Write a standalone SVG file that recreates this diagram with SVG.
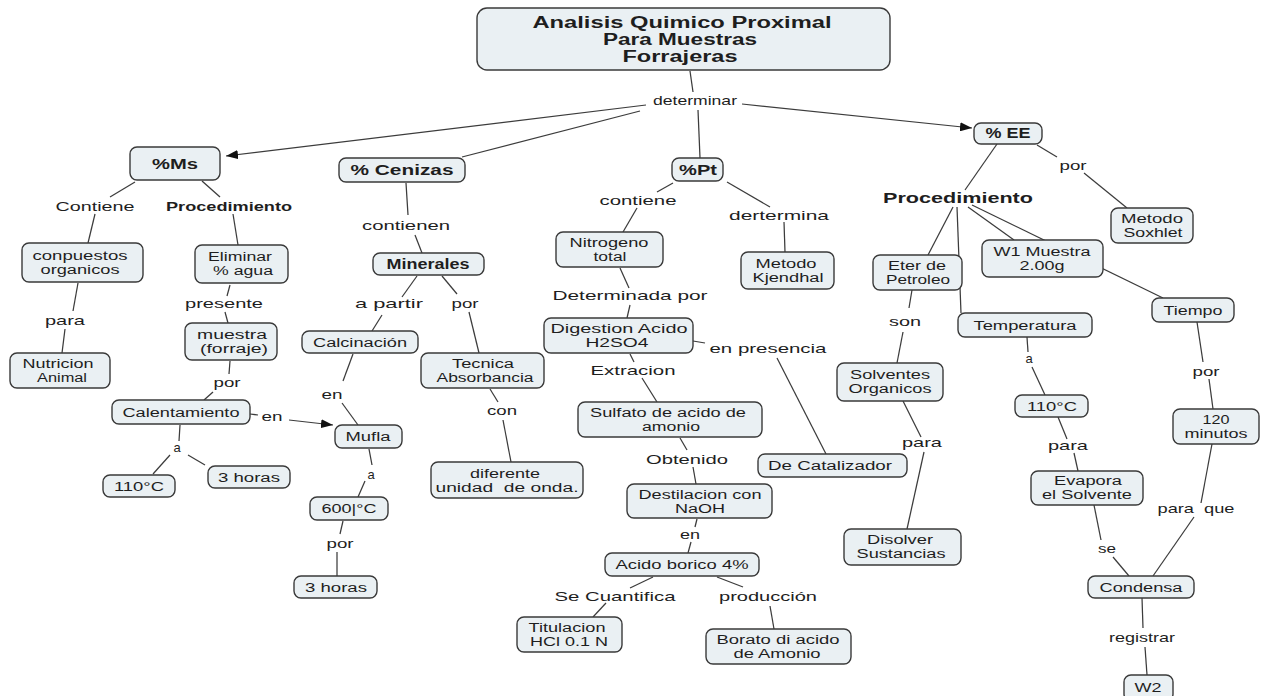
<svg xmlns="http://www.w3.org/2000/svg" width="1262" height="696" viewBox="0 0 1262 696">
<style>
.n rect{fill:#eaf0f3;stroke:#3a3a3a;stroke-width:1.4}
text{font-family:"Liberation Sans",Arial,sans-serif;font-size:13px;fill:#1e1e1e;text-anchor:middle}
.n text{font-size:12.5px}
.n text.b{font-size:14px}
.b{font-weight:bold}
.n text.t{font-size:16px;font-weight:bold}
#connectors line{stroke:#3c3c3c;stroke-width:1.25}
#connectors line.ar{marker-end:url(#arr)}
</style>
<defs>
<marker id="arr" markerUnits="userSpaceOnUse" markerWidth="12" markerHeight="9" refX="12" refY="4.5" orient="auto">
<path d="M0,0 L12,4.5 L0,9 z" fill="#111"/>
</marker>
</defs>
<rect width="1262" height="696" fill="#fff"/>
<g id="connectors">
<line x1="690" y1="71" x2="693" y2="92"/>
<line class="ar" x1="646" y1="105" x2="226" y2="156"/>
<line x1="640" y1="111" x2="462" y2="157"/>
<line x1="698" y1="110" x2="700" y2="158"/>
<line class="ar" x1="742" y1="104" x2="972" y2="128"/>
<line x1="135" y1="182" x2="110" y2="197"/>
<line x1="202" y1="181" x2="220" y2="197"/>
<line x1="95" y1="214" x2="88" y2="243"/>
<line x1="233" y1="214" x2="238" y2="245"/>
<line x1="78" y1="283" x2="73" y2="311"/>
<line x1="65" y1="329" x2="62" y2="353"/>
<line x1="230" y1="285" x2="227" y2="296"/>
<line x1="225" y1="312" x2="228" y2="323"/>
<line x1="230" y1="361" x2="229" y2="374"/>
<line x1="213" y1="392" x2="204" y2="400"/>
<line x1="250" y1="414" x2="258" y2="415"/>
<line class="ar" x1="289" y1="420" x2="333" y2="425"/>
<line x1="180" y1="425" x2="179" y2="441"/>
<line x1="170" y1="455" x2="153" y2="474"/>
<line x1="188" y1="455" x2="205" y2="465"/>
<line x1="369" y1="449" x2="372" y2="465"/>
<line x1="365" y1="481" x2="358" y2="497"/>
<line x1="343" y1="521" x2="340" y2="534"/>
<line x1="337" y1="552" x2="337" y2="576"/>
<line x1="406" y1="183" x2="408" y2="215"/>
<line x1="415" y1="235" x2="422" y2="253"/>
<line x1="417" y1="276" x2="402" y2="297"/>
<line x1="382" y1="315" x2="372" y2="331"/>
<line x1="353" y1="354" x2="343" y2="381"/>
<line x1="342" y1="403" x2="358" y2="425"/>
<line x1="442" y1="276" x2="457" y2="294"/>
<line x1="469" y1="312" x2="479" y2="353"/>
<line x1="490" y1="389" x2="498" y2="402"/>
<line x1="503" y1="420" x2="511" y2="462"/>
<line x1="673" y1="183" x2="657" y2="192"/>
<line x1="637" y1="208" x2="623" y2="232"/>
<line x1="727" y1="182" x2="770" y2="207"/>
<line x1="784" y1="222" x2="785" y2="252"/>
<line x1="620" y1="268" x2="629" y2="288"/>
<line x1="630" y1="305" x2="627" y2="318"/>
<line x1="693" y1="341" x2="705" y2="343"/>
<line x1="777" y1="358" x2="826" y2="454"/>
<line x1="630" y1="354" x2="634" y2="362"/>
<line x1="642" y1="378" x2="657" y2="402"/>
<line x1="680" y1="438" x2="687" y2="450"/>
<line x1="693" y1="467" x2="696" y2="484"/>
<line x1="697" y1="519" x2="695" y2="527"/>
<line x1="691" y1="542" x2="688" y2="553"/>
<line x1="653" y1="577" x2="630" y2="588"/>
<line x1="606" y1="603" x2="593" y2="617"/>
<line x1="717" y1="577" x2="743" y2="587"/>
<line x1="770" y1="606" x2="774" y2="629"/>
<line x1="997" y1="144" x2="965" y2="190"/>
<line x1="1037" y1="145" x2="1057" y2="157"/>
<line x1="1084" y1="173" x2="1127" y2="208"/>
<line x1="953" y1="207" x2="928" y2="255"/>
<line x1="957" y1="207" x2="961" y2="313"/>
<line x1="968" y1="207" x2="1014" y2="240"/>
<line x1="972" y1="205" x2="1163" y2="298"/>
<line x1="912" y1="290" x2="909" y2="308"/>
<line x1="903" y1="332" x2="897" y2="363"/>
<line x1="903" y1="401" x2="921" y2="437"/>
<line x1="924" y1="452" x2="907" y2="529"/>
<line x1="1027" y1="337" x2="1028" y2="352"/>
<line x1="1032" y1="367" x2="1045" y2="395"/>
<line x1="1058" y1="417" x2="1067" y2="439"/>
<line x1="1074" y1="453" x2="1078" y2="471"/>
<line x1="1094" y1="505" x2="1101" y2="540"/>
<line x1="1113" y1="557" x2="1129" y2="576"/>
<line x1="1197" y1="322" x2="1203" y2="362"/>
<line x1="1209" y1="379" x2="1213" y2="409"/>
<line x1="1212" y1="444" x2="1201" y2="503"/>
<line x1="1194" y1="517" x2="1153" y2="576"/>
<line x1="1142" y1="598" x2="1143" y2="628"/>
<line x1="1145" y1="647" x2="1147" y2="675"/>
</g>
<g id="labels">
<g id="l-determinar"><text x="695" y="105" textLength="84" lengthAdjust="spacingAndGlyphs">determinar</text></g>
<g id="l-contiene1"><text x="95" y="211" textLength="79" lengthAdjust="spacingAndGlyphs">Contiene</text></g>
<g id="l-proc1"><text class="b" x="229" y="211" textLength="126" lengthAdjust="spacingAndGlyphs">Procedimiento</text></g>
<g id="l-para1"><text x="65" y="325" textLength="40" lengthAdjust="spacingAndGlyphs">para</text></g>
<g id="l-presente"><text x="224" y="308" textLength="78" lengthAdjust="spacingAndGlyphs">presente</text></g>
<g id="l-por1"><text x="227" y="387" textLength="27" lengthAdjust="spacingAndGlyphs">por</text></g>
<g id="l-en1"><text x="272" y="421" textLength="21" lengthAdjust="spacingAndGlyphs">en</text></g>
<g id="l-a1"><text x="177" y="452">a</text></g>
<g id="l-a2"><text x="371" y="479">a</text></g>
<g id="l-por2"><text x="340" y="548" textLength="27" lengthAdjust="spacingAndGlyphs">por</text></g>
<g id="l-en2"><text x="332" y="399" textLength="21" lengthAdjust="spacingAndGlyphs">en</text></g>
<g id="l-contienen"><text x="406" y="230" textLength="88" lengthAdjust="spacingAndGlyphs">contienen</text></g>
<g id="l-apartir"><text x="389" y="308" textLength="68" lengthAdjust="spacingAndGlyphs">a partir</text></g>
<g id="l-por3"><text x="465" y="308" textLength="27" lengthAdjust="spacingAndGlyphs">por</text></g>
<g id="l-con"><text x="502" y="415" textLength="30" lengthAdjust="spacingAndGlyphs">con</text></g>
<g id="l-contiene2"><text x="638" y="205" textLength="77" lengthAdjust="spacingAndGlyphs">contiene</text></g>
<g id="l-dertermina"><text x="779" y="220" textLength="100" lengthAdjust="spacingAndGlyphs">dertermina</text></g>
<g id="l-determinada"><text x="630" y="300" textLength="155" lengthAdjust="spacingAndGlyphs">Determinada por</text></g>
<g id="l-presencia"><text x="768" y="353" textLength="117" lengthAdjust="spacingAndGlyphs">en presencia</text></g>
<g id="l-extracion"><text x="633" y="375" textLength="85" lengthAdjust="spacingAndGlyphs">Extracion</text></g>
<g id="l-obtenido"><text x="687" y="464" textLength="82" lengthAdjust="spacingAndGlyphs">Obtenido</text></g>
<g id="l-en3"><text x="690" y="539" textLength="20" lengthAdjust="spacingAndGlyphs">en</text></g>
<g id="l-cuantifica"><text x="615" y="601" textLength="121" lengthAdjust="spacingAndGlyphs">Se Cuantifica</text></g>
<g id="l-produccion"><text x="768" y="601" textLength="98" lengthAdjust="spacingAndGlyphs">producción</text></g>
<g id="l-proc2"><text class="b" x="958" y="203" style="font-size:14px" textLength="150" lengthAdjust="spacingAndGlyphs">Procedimiento</text></g>
<g id="l-por4"><text x="1073" y="170" textLength="27" lengthAdjust="spacingAndGlyphs">por</text></g>
<g id="l-son"><text x="905" y="326" textLength="32" lengthAdjust="spacingAndGlyphs">son</text></g>
<g id="l-para2"><text x="922" y="447" textLength="40" lengthAdjust="spacingAndGlyphs">para</text></g>
<g id="l-a3"><text x="1029" y="363">a</text></g>
<g id="l-para3"><text x="1068" y="450" textLength="40" lengthAdjust="spacingAndGlyphs">para</text></g>
<g id="l-se"><text x="1107" y="553" textLength="18" lengthAdjust="spacingAndGlyphs">se</text></g>
<g id="l-por5"><text x="1206" y="376" textLength="27" lengthAdjust="spacingAndGlyphs">por</text></g>
<g id="l-paraque"><text x="1196" y="513" xml:space="preserve" textLength="77" lengthAdjust="spacingAndGlyphs">para  que</text></g>
<g id="l-registrar"><text x="1142" y="642" textLength="66" lengthAdjust="spacingAndGlyphs">registrar</text></g>
</g>
<g id="n-title" class="n"><rect x="477" y="8" width="413" height="62" rx="10"/>
<text class="t" x="682" y="28" textLength="299" lengthAdjust="spacingAndGlyphs">Analisis Quimico Proximal</text>
<text class="t" x="680" y="45" textLength="154" lengthAdjust="spacingAndGlyphs">Para Muestras</text>
<text class="t" x="680" y="62" textLength="115" lengthAdjust="spacingAndGlyphs">Forrajeras</text></g>
<g id="n-ms" class="n"><rect x="130" y="147" width="90" height="33" rx="7"/><text class="b" x="175" y="169" textLength="46" lengthAdjust="spacingAndGlyphs">%Ms</text></g>
<g id="n-cenizas" class="n"><rect x="339" y="158" width="126" height="24" rx="7"/><text class="b" x="402" y="175" textLength="103" lengthAdjust="spacingAndGlyphs">% Cenizas</text></g>
<g id="n-pt" class="n"><rect x="672" y="158" width="51" height="23" rx="7"/><text class="b" x="698" y="175" textLength="38" lengthAdjust="spacingAndGlyphs">%Pt</text></g>
<g id="n-ee" class="n"><rect x="974" y="123" width="68" height="21" rx="7"/><text class="b" x="1008" y="138" textLength="45" lengthAdjust="spacingAndGlyphs">% EE</text></g>
<g id="n-conpuestos" class="n"><rect x="22" y="243" width="121" height="39" rx="7"/><text x="80" y="260" textLength="95" lengthAdjust="spacingAndGlyphs">conpuestos</text><text x="80" y="274" textLength="79" lengthAdjust="spacingAndGlyphs">organicos</text></g>
<g id="n-nutricion" class="n"><rect x="10" y="353" width="100" height="35" rx="7"/><text x="58" y="368" textLength="71" lengthAdjust="spacingAndGlyphs">Nutricion</text><text x="62" y="382" textLength="50" lengthAdjust="spacingAndGlyphs">Animal</text></g>
<g id="n-eliminar" class="n"><rect x="195" y="245" width="93" height="38" rx="7"/><text x="240" y="261" textLength="64" lengthAdjust="spacingAndGlyphs">Eliminar</text><text x="243" y="275" textLength="60" lengthAdjust="spacingAndGlyphs">% agua</text></g>
<g id="n-muestra" class="n"><rect x="185" y="323" width="92" height="37" rx="7"/><text x="232" y="339" textLength="70" lengthAdjust="spacingAndGlyphs">muestra</text><text x="234" y="353" textLength="68" lengthAdjust="spacingAndGlyphs">(forraje)</text></g>
<g id="n-calentamiento" class="n"><rect x="112" y="400" width="138" height="24" rx="7"/><text x="181" y="417" textLength="117" lengthAdjust="spacingAndGlyphs">Calentamiento</text></g>
<g id="n-110a" class="n"><rect x="103" y="475" width="72" height="22" rx="7"/><text x="139" y="491" textLength="50" lengthAdjust="spacingAndGlyphs">110°C</text></g>
<g id="n-3horas-a" class="n"><rect x="208" y="466" width="82" height="22" rx="7"/><text x="249" y="482" textLength="62" lengthAdjust="spacingAndGlyphs">3 horas</text></g>
<g id="n-mufla" class="n"><rect x="335" y="425" width="67" height="23" rx="7"/><text x="368" y="441" textLength="45" lengthAdjust="spacingAndGlyphs">Mufla</text></g>
<g id="n-600" class="n"><rect x="310" y="497" width="78" height="23" rx="7"/><text x="349" y="513" textLength="55" lengthAdjust="spacingAndGlyphs">600|°C</text></g>
<g id="n-3horas-b" class="n"><rect x="294" y="576" width="83" height="22" rx="7"/><text x="336" y="592" textLength="62" lengthAdjust="spacingAndGlyphs">3 horas</text></g>
<g id="n-calcinacion" class="n"><rect x="302" y="331" width="116" height="22" rx="7"/><text x="360" y="347" textLength="94" lengthAdjust="spacingAndGlyphs">Calcinación</text></g>
<g id="n-minerales" class="n"><rect x="373" y="253" width="111" height="22" rx="7"/><text class="b" x="428" y="269" textLength="83" lengthAdjust="spacingAndGlyphs">Minerales</text></g>
<g id="n-tecnica" class="n"><rect x="421" y="353" width="123" height="35" rx="7"/><text x="483" y="368" textLength="62" lengthAdjust="spacingAndGlyphs">Tecnica</text><text x="485" y="382" textLength="97" lengthAdjust="spacingAndGlyphs">Absorbancia</text></g>
<g id="n-diferente" class="n"><rect x="431" y="462" width="152" height="36" rx="7"/><text x="505" y="478" textLength="70" lengthAdjust="spacingAndGlyphs">diferente</text><text x="507" y="492" xml:space="preserve" textLength="143" lengthAdjust="spacingAndGlyphs">unidad  de onda.</text></g>
<g id="n-nitrogeno" class="n"><rect x="556" y="232" width="107" height="35" rx="7"/><text x="609" y="247" textLength="79" lengthAdjust="spacingAndGlyphs">Nitrogeno</text><text x="610" y="261" textLength="33" lengthAdjust="spacingAndGlyphs">total</text></g>
<g id="n-kjendhal" class="n"><rect x="741" y="252" width="93" height="37" rx="7"/><text x="786" y="268" textLength="61" lengthAdjust="spacingAndGlyphs">Metodo</text><text x="788" y="282" textLength="71" lengthAdjust="spacingAndGlyphs">Kjendhal</text></g>
<g id="n-digestion" class="n"><rect x="544" y="318" width="149" height="35" rx="7"/><text x="619" y="333" textLength="137" lengthAdjust="spacingAndGlyphs">Digestion Acido</text><text x="617" y="347" textLength="63" lengthAdjust="spacingAndGlyphs">H2SO4</text></g>
<g id="n-sulfato" class="n"><rect x="578" y="402" width="184" height="35" rx="7"/><text x="668" y="417" textLength="156" lengthAdjust="spacingAndGlyphs">Sulfato de acido de</text><text x="671" y="431" textLength="58" lengthAdjust="spacingAndGlyphs">amonio</text></g>
<g id="n-destilacion" class="n"><rect x="627" y="484" width="145" height="34" rx="7"/><text x="700" y="499" textLength="123" lengthAdjust="spacingAndGlyphs">Destilacion con</text><text x="700" y="513" textLength="50" lengthAdjust="spacingAndGlyphs">NaOH</text></g>
<g id="n-borico" class="n"><rect x="605" y="553" width="154" height="23" rx="7"/><text x="682" y="569" textLength="133" lengthAdjust="spacingAndGlyphs">Acido borico 4%</text></g>
<g id="n-titulacion" class="n"><rect x="517" y="617" width="105" height="35" rx="7"/><text x="567" y="632" textLength="77" lengthAdjust="spacingAndGlyphs">Titulacion</text><text x="569" y="646" textLength="78" lengthAdjust="spacingAndGlyphs">HCl 0.1 N</text></g>
<g id="n-borato" class="n"><rect x="706" y="629" width="145" height="35" rx="7"/><text x="778" y="644" textLength="123" lengthAdjust="spacingAndGlyphs">Borato di acido</text><text x="777" y="658" textLength="87" lengthAdjust="spacingAndGlyphs">de Amonio</text></g>
<g id="n-catalizador" class="n"><rect x="758" y="454" width="149" height="23" rx="7"/><text x="830" y="470" textLength="124" lengthAdjust="spacingAndGlyphs">De Catalizador</text></g>
<g id="n-soxhlet" class="n"><rect x="1111" y="208" width="82" height="35" rx="7"/><text x="1152" y="223" textLength="62" lengthAdjust="spacingAndGlyphs">Metodo</text><text x="1153" y="237" textLength="59" lengthAdjust="spacingAndGlyphs">Soxhlet</text></g>
<g id="n-eter" class="n"><rect x="873" y="255" width="89" height="35" rx="7"/><text x="917" y="270" textLength="58" lengthAdjust="spacingAndGlyphs">Eter de</text><text x="918" y="284" textLength="64" lengthAdjust="spacingAndGlyphs">Petroleo</text></g>
<g id="n-w1" class="n"><rect x="982" y="240" width="121" height="37" rx="7"/><text x="1042" y="256" textLength="97" lengthAdjust="spacingAndGlyphs">W1 Muestra</text><text x="1042" y="270" textLength="45" lengthAdjust="spacingAndGlyphs">2.00g</text></g>
<g id="n-tiempo" class="n"><rect x="1152" y="298" width="82" height="24" rx="7"/><text x="1193" y="315" textLength="59" lengthAdjust="spacingAndGlyphs">Tiempo</text></g>
<g id="n-temperatura" class="n"><rect x="958" y="313" width="134" height="24" rx="7"/><text x="1025" y="330" textLength="103" lengthAdjust="spacingAndGlyphs">Temperatura</text></g>
<g id="n-solventes" class="n"><rect x="837" y="363" width="106" height="38" rx="7"/><text x="890" y="379" textLength="80" lengthAdjust="spacingAndGlyphs">Solventes</text><text x="890" y="393" textLength="83" lengthAdjust="spacingAndGlyphs">Organicos</text></g>
<g id="n-disolver" class="n"><rect x="844" y="529" width="117" height="36" rx="7"/><text x="900" y="544" textLength="66" lengthAdjust="spacingAndGlyphs">Disolver</text><text x="901" y="558" textLength="89" lengthAdjust="spacingAndGlyphs">Sustancias</text></g>
<g id="n-110b" class="n"><rect x="1015" y="395" width="73" height="22" rx="7"/><text x="1052" y="411" textLength="50" lengthAdjust="spacingAndGlyphs">110°C</text></g>
<g id="n-evapora" class="n"><rect x="1031" y="471" width="112" height="34" rx="7"/><text x="1088" y="485" textLength="68" lengthAdjust="spacingAndGlyphs">Evapora</text><text x="1087" y="499" textLength="90" lengthAdjust="spacingAndGlyphs">el Solvente</text></g>
<g id="n-minutos" class="n"><rect x="1173" y="409" width="86" height="35" rx="7"/><text x="1216" y="424" textLength="27" lengthAdjust="spacingAndGlyphs">120</text><text x="1216" y="438" textLength="63" lengthAdjust="spacingAndGlyphs">minutos</text></g>
<g id="n-condensa" class="n"><rect x="1088" y="576" width="106" height="22" rx="7"/><text x="1141" y="592" textLength="83" lengthAdjust="spacingAndGlyphs">Condensa</text></g>
<g id="n-w2" class="n"><rect x="1124" y="675" width="49" height="26" rx="7"/><text x="1148" y="692" textLength="27" lengthAdjust="spacingAndGlyphs">W2</text></g>
</svg>
